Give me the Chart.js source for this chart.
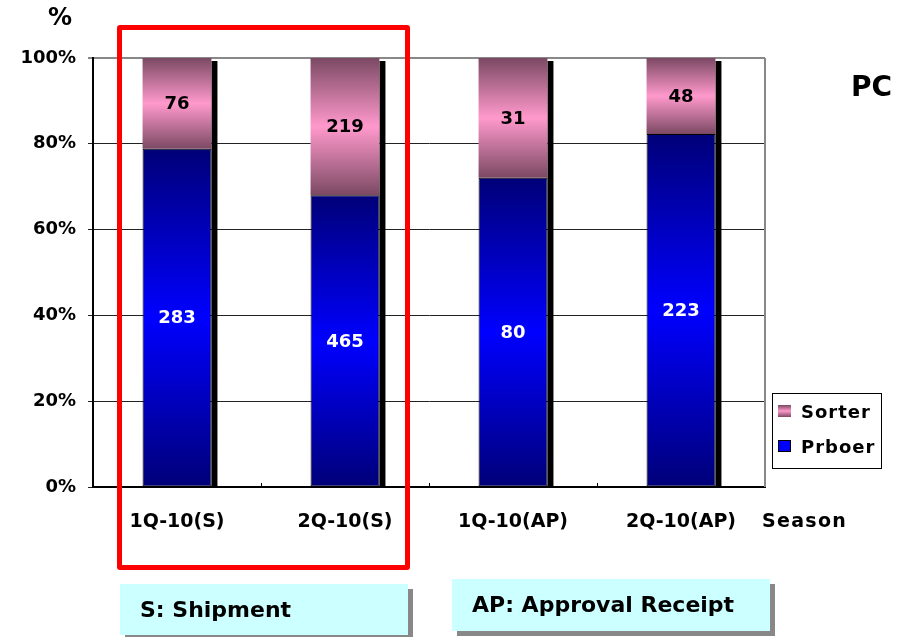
<!DOCTYPE html>
<html>
<head>
<meta charset="utf-8">
<script src="https://cdn.jsdelivr.net/npm/chart.js@4"></script>
<style>
  body { margin: 0; background: #fff; }
  #wrap { position: relative; width: 914px; height: 637px; font-family: "DejaVu Sans", sans-serif; font-weight: bold; color: #000; }
  #chart { position: absolute; left: 0; top: 0; }
  .txt { position: absolute; white-space: nowrap; }
  #redbox { position: absolute; left: 117px; top: 25px; width: 283px; height: 535px; border: 5px solid #ff0000; border-radius: 3px; pointer-events: none; }
  .note { position: absolute; background: #ccffff; box-shadow: 5px 5px 0 #888; font-size: 22px; box-sizing: border-box; padding-left: 20px; }
  #legend { position: absolute; left: 772px; top: 393px; width: 110px; height: 76px; border: 1.5px solid #000; box-sizing: border-box; background: #fff; font-size: 18px; letter-spacing: 1px; }
  #legend div { position: absolute; left: 5px; white-space: nowrap; }
  #legend span.sw { display: inline-block; width: 13px; height: 12px; margin-right: 10px; vertical-align: 1px; box-sizing: border-box; }
</style>
</head>
<body>
<div id="wrap">
  <canvas id="chart" width="914" height="637"></canvas>
  <div class="txt" style="left:48px; top:3px; font-size:24px;">%</div>
  <div class="txt" style="left:851px; top:70px; font-size:28px;">PC</div>
  <div class="txt" style="left:762px; top:509px; font-size:19px; letter-spacing:1.3px;">Season</div>
  <div id="legend"></div>
  <div id="redbox"></div>
  <div class="note" style="left:120px; top:584px; width:288px; height:51px; line-height:51px;">S: Shipment</div>
  <div class="note" style="left:452px; top:579px; width:318px; height:52px; line-height:52px;">AP: Approval Receipt</div>
</div>
<script>
const categories = ["1Q-10(S)", "2Q-10(S)", "1Q-10(AP)", "2Q-10(AP)"];
const prboerCounts = [283, 465, 80, 223];
const sorterCounts = [76, 219, 31, 48];
const seriesNames = ["Prboer", "Sorter"];
const yTickValues = [0, 20, 40, 60, 80, 100];

// shares of each bar (100% stacked)
const prboerPct = prboerCounts.map((v, i) => v / (v + sorterCounts[i]) * 100);
const sorterPct = sorterCounts.map((v, i) => v / (v + prboerCounts[i]) * 100);

const FONT = "DejaVu Sans";

function segmentFill(context, dark, light) {
    const chart = context.chart;
    if (!chart.chartArea || context.dataIndex === undefined) return light;
    const y = chart.scales.y;
    const i = context.dataIndex;
    let from, to;
    if (context.datasetIndex === 0) { from = 0; to = prboerPct[i]; }
    else { from = prboerPct[i]; to = 100; }
    const top = y.getPixelForValue(to);
    const bottom = y.getPixelForValue(from);
    if (!isFinite(top) || !isFinite(bottom) || top === bottom) return light;
    const g = chart.ctx.createLinearGradient(0, top, 0, bottom);
    g.addColorStop(0, dark);
    g.addColorStop(0.5, light);
    g.addColorStop(1, dark);
    return g;
}

// black drop shadow on the right of each bar, plus plot frame
const framePlugin = {
    id: "frame",
    beforeDatasetsDraw(chart) {
        const ctx = chart.ctx;
        const a = chart.chartArea;
        const x = chart.scales.x;
        ctx.save();
        ctx.strokeStyle = "#888";
        ctx.lineWidth = 2;
        ctx.beginPath();
        ctx.moveTo(a.right, a.top);
        ctx.lineTo(a.right, a.bottom);
        ctx.stroke();
        // little tick marks between categories
        ctx.strokeStyle = "#000";
        ctx.lineWidth = 1;
        for (let i = 1; i < categories.length; i++) {
            const px = Math.round(x.getPixelForValue(i - 0.5)) + 0.5;
            ctx.beginPath();
            ctx.moveTo(px, a.bottom);
            ctx.lineTo(px, a.bottom - 4);
            ctx.stroke();
        }
        const topMeta = chart.getDatasetMeta(1);
        const baseMeta = chart.getDatasetMeta(0);
        ctx.fillStyle = "#000";
        topMeta.data.forEach((bar, i) => {
            const right = bar.x + bar.width / 2;
            const base = baseMeta.data[i].base;
            ctx.fillRect(right, bar.y + 3, 6, base - bar.y - 3);
        });
        ctx.restore();
    },
    afterDatasetsDraw(chart) {
        const ctx = chart.ctx;
        ctx.save();
        ctx.font = "bold 18px '" + FONT + "'";
        ctx.textAlign = "center";
        ctx.textBaseline = "middle";
        const counts = [prboerCounts, sorterCounts];
        [0, 1].forEach(d => {
            chart.getDatasetMeta(d).data.forEach((bar, i) => {
                ctx.fillStyle = d === 0 ? "#fff" : "#000";
                ctx.fillText(String(counts[d][i]), bar.x, (bar.y + bar.base) / 2 + 1);
            });
        });
        ctx.restore();
    }
};

const chart = new Chart(document.getElementById("chart"), {
    type: "bar",
    data: {
        labels: categories,
        datasets: [
            {
                label: seriesNames[0],
                data: prboerPct,
                backgroundColor: c => segmentFill(c, "#000078", "#0000ff"),
                borderColor: "#000",
                borderWidth: 1,
                borderSkipped: false
            },
            {
                label: seriesNames[1],
                data: sorterPct,
                backgroundColor: c => segmentFill(c, "#7b4963", "#ff99cc"),
                borderWidth: 0
            }
        ]
    },
    options: {
        responsive: false,
        animation: false,
        layout: { padding: { left: 0, top: 58, right: 149, bottom: 0 } },
        datasets: { bar: { categoryPercentage: 1, barPercentage: 0.41 } },
        plugins: { legend: { display: false }, tooltip: { enabled: false } },
        scales: {
            x: {
                stacked: true,
                grid: { display: false, drawTicks: false },
                border: { display: true, color: "#000", width: 2 },
                ticks: { color: "#000", padding: 24, font: { family: FONT, size: 19, weight: "bold" } },
                afterFit(scale) { scale.height = 150; }
            },
            y: {
                stacked: true,
                min: 0,
                max: 100,
                afterBuildTicks(scale) { scale.ticks = yTickValues.map(v => ({ value: v })); },
                grid: {
                    color: c => (c.tick && c.tick.value === 100 ? "#888" : "#222"),
                    lineWidth: c => (c.tick && c.tick.value === 100 ? 2 : 1),
                    tickLength: 5
                },
                border: { display: true, color: "#000", width: 2 },
                ticks: {
                    color: "#000",
                    padding: 12,
                    font: { family: FONT, size: 18, weight: "bold" },
                    callback: v => v + "%"
                },
                afterFit(scale) { scale.width = 93; }
            }
        }
    },
    plugins: [framePlugin]
});

// legend, built from the datasets (top series first)
const swatches = {
    Sorter: "background: linear-gradient(#7b4963, #ff99cc 50%, #7b4963);",
    Prboer: "background: #0000ff; border: 1.5px solid #000;"
};
const legend = document.getElementById("legend");
chart.data.datasets.slice().reverse().forEach((ds, k) => {
    const row = document.createElement("div");
    row.style.top = (k === 0 ? 7 : 42) + "px";
    row.innerHTML = '<span class="sw" style="' + swatches[ds.label] + '"></span>' + ds.label;
    legend.appendChild(row);
});
</script>
</body>
</html>
